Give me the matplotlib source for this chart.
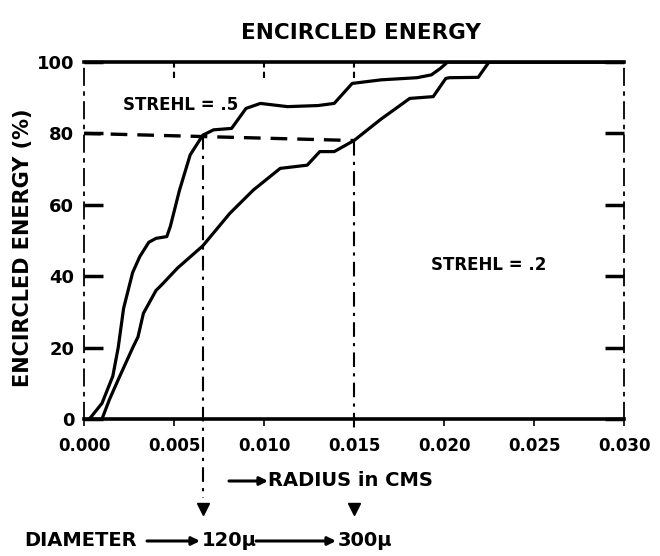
import matplotlib
matplotlib.use("Agg")
import matplotlib.pyplot as plt

# radius in cm / encircled energy in %
strehl5_r = [0.0003, 0.0010, 0.0016, 0.0019, 0.0022, 0.0027, 0.0031, 0.0036, 0.0040,
             0.0046, 0.0048, 0.0050, 0.0053, 0.0059, 0.0066, 0.0072, 0.0082, 0.0090,
             0.0098, 0.0113, 0.0130, 0.0139, 0.0149, 0.0165, 0.0185, 0.0193, 0.0198,
             0.0202, 0.0300]
strehl5_e = [0, 4.4, 12, 20, 31, 41, 45.5, 49.5, 50.6,
             51.1, 54, 58, 64, 74, 79.5, 81, 81.4, 87,
             88.4, 87.5, 87.8, 88.4, 94, 95, 95.6, 96.4, 98.2,
             100, 100]

strehl2_r = [0.0010, 0.0014, 0.0019, 0.0027, 0.0030, 0.0033, 0.0040, 0.0043, 0.0052,
             0.0066, 0.0081, 0.0094, 0.0109, 0.0124, 0.0131, 0.0139, 0.0150, 0.0165,
             0.0181, 0.0194, 0.0201, 0.0203, 0.0219, 0.0225, 0.0300]
strehl2_e = [0, 5.3, 11, 19.9, 23, 29.6, 36, 37.5, 42.3,
             48.5, 57.6, 64.1, 70.2, 71.1, 74.9, 74.9, 78, 84,
             89.8, 90.3, 95.4, 95.6, 95.7, 100, 100]

x_ticks = [0.000, 0.005, 0.010, 0.015, 0.020, 0.025, 0.030]
y_ticks = [0, 20, 40, 60, 80, 100]
top_ticks = [0.005, 0.010, 0.015]

level = 79.5           # 80 % energy guide
radius_a = 0.0066      # strehl .5 crossing
radius_b = 0.0150      # strehl .2 crossing
level_b = 78.0

fig = plt.figure(figsize=(6.6, 5.56), dpi=100)
ax = fig.add_axes([84 / 660, 1 - 419 / 556, 540 / 660, 357 / 556])
ax.set_xlim(0, 0.030)
ax.set_ylim(0, 100)

# frame: heavy top/bottom, broken sides
for s in ['top', 'bottom']:
    ax.spines[s].set_linewidth(2.6)
for s in ['left', 'right']:
    ax.spines[s].set_linewidth(1.3)
    ax.spines[s].set_linestyle((0, (9, 4, 1.5, 4)))

ax.set_yticks(y_ticks)
ax.set_yticklabels([str(v) for v in y_ticks])
ax.tick_params(axis='y', direction='in', length=14, width=2.5, left=True, right=True,
               labelsize=13, pad=7)
ax.set_xticks(x_ticks)
ax.set_xticklabels([f'{v:.3f}' for v in x_ticks])
ax.tick_params(axis='x', direction='out', length=5, width=1.2, labelsize=12, pad=8)
for lab in ax.get_xticklabels() + ax.get_yticklabels():
    lab.set_fontweight('bold')

ax.vlines(top_ticks, 0.955, 1.0, transform=ax.get_xaxis_transform(),
          colors='black', linestyles=(0, (3, 2)), lw=1.5)

# curves
ax.plot(strehl5_r, strehl5_e, color='black', lw=2.3)
ax.plot(strehl2_r, strehl2_e, color='black', lw=2.3)

# guide lines
ax.plot([0, radius_b], [level + 0.5, level_b], color='black', lw=2.4,
        linestyle=(0, (5, 3)))
ax.plot([radius_a, radius_a], [level, -22], color='black', lw=1.5,
        linestyle=(0, (7, 3, 1.5, 3)), clip_on=False)
ax.plot([radius_b, radius_b], [level_b, -3], color='black', lw=1.5,
        linestyle=(0, (7, 3, 1.5, 3)), clip_on=False)
ax.plot([radius_a, radius_b], [-25.3, -25.3], linestyle='none', marker='v',
        markersize=8, color='black', clip_on=False)

ax.text(0.00217, 88, 'STREHL = .5', fontsize=12, fontweight='bold', va='center')
ax.text(0.0193, 43, 'STREHL = .2', fontsize=12, fontweight='bold', va='center')

fig.text(361 / 660, 1 - 33 / 556, 'ENCIRCLED ENERGY', fontsize=15.5, fontweight='bold',
         ha='center', va='center')
fig.text(23 / 660, 1 - 248 / 556, 'ENCIRCLED ENERGY (%)', fontsize=15,
         fontweight='bold', rotation=90, ha='center', va='center')

# radius label with arrow
arrow = dict(arrowstyle='-|>', color='black', lw=2.2, mutation_scale=12,
             shrinkA=0, shrinkB=0)
ax.annotate('', xy=(268, 556 - 481), xytext=(229, 556 - 481),
            xycoords='figure pixels', textcoords='figure pixels', arrowprops=arrow)
fig.text(268 / 660, 1 - 481 / 556, 'RADIUS in CMS', fontsize=14, fontweight='bold',
         ha='left', va='center')

# diameter row
fig.text(24 / 660, 1 - 541 / 556, 'DIAMETER', fontsize=14, fontweight='bold',
         ha='left', va='center')
ax.annotate('', xy=(200, 556 - 541), xytext=(147, 556 - 541),
            xycoords='figure pixels', textcoords='figure pixels', arrowprops=arrow)
fig.text(202 / 660, 1 - 541 / 556, '120\u00b5', fontsize=14, fontweight='bold',
         ha='left', va='center')
ax.annotate('', xy=(336, 556 - 541), xytext=(256, 556 - 541),
            xycoords='figure pixels', textcoords='figure pixels', arrowprops=arrow)
fig.text(338 / 660, 1 - 541 / 556, '300\u00b5', fontsize=14, fontweight='bold',
         ha='left', va='center')

fig.savefig('out.png', dpi=100)
